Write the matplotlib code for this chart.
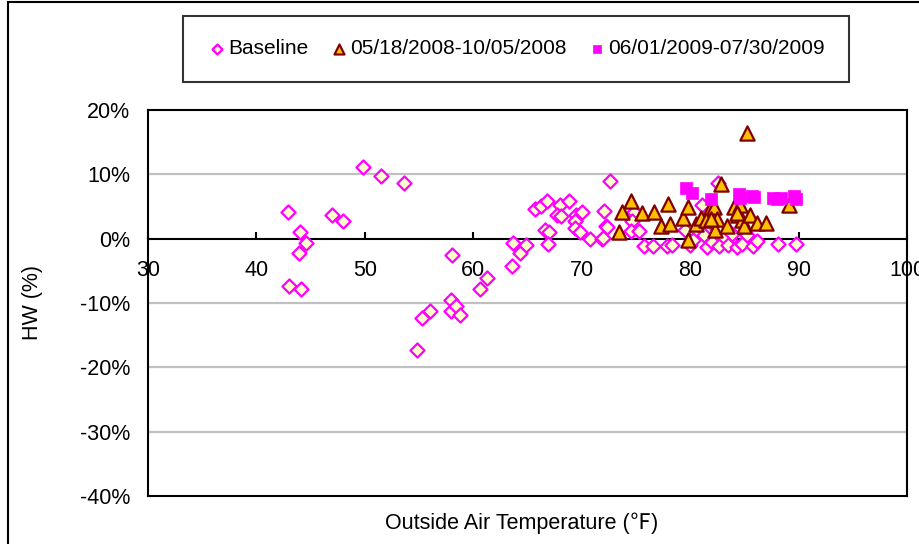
import matplotlib
matplotlib.use("Agg")
import matplotlib.pyplot as plt
from matplotlib.lines import Line2D
from matplotlib.patches import Rectangle

plt.rcParams['font.family'] = ['Liberation Sans', 'Noto Sans CJK SC', 'DejaVu Sans']

# Baseline period: outside air temperature (F) vs HW change (%)
base_t = [42.9, 43.0, 43.9, 44.0, 44.1, 44.6, 47.0, 48.0, 49.8, 51.5, 53.6,
          54.8, 55.3, 56.0, 58.0, 57.9, 57.9, 58.4, 58.8, 60.6, 61.3,
          63.6, 63.7, 64.3, 64.9, 65.7, 66.2, 66.8, 66.6, 67.0, 66.9,
          68.0, 68.8, 67.7, 68.1, 69.5, 70.0, 69.4, 69.4, 69.8, 70.8,
          71.9, 72.1, 72.2, 72.6, 72.3, 72.0, 74.8, 74.6, 74.5, 75.3,
          75.7, 76.6, 77.9, 78.3, 79.5, 80.0, 80.3, 81.1, 80.8, 81.3,
          81.6, 82.0, 82.5, 82.7, 83.1, 83.5, 83.9, 84.3, 84.8, 85.2,
          85.8, 86.2, 82.6, 88.1, 89.8]
base_hw = [4.2, -7.4, -2.2, 1.0, -7.8, -0.6, 3.7, 2.8, 11.1, 9.8, 8.6,
           -17.3, -12.3, -11.3, -2.5, -9.6, -11.3, -10.4, -11.9, -7.8, -6.1,
           -4.3, -0.7, -2.3, -1.0, 4.6, 5.1, 5.8, 1.3, 1.0, -0.8,
           5.3, 5.8, 3.7, 3.6, 3.7, 4.1, 2.7, 1.7, 1.1, 0.0,
           0.0, 4.3, 1.9, 8.9, 1.8, 0.1, 4.2, 2.8, 1.2, 1.2,
           -1.2, -1.2, -1.2, -1.0, 1.4, -1.0, -0.2, 5.3, 2.2, 0.5,
           -1.3, -0.5, 1.5, -1.2, 0.2, -1.0, 0.8, -1.3, -0.8, 0.6,
           -1.2, -0.3, 8.6, -0.9, -0.9]

# 05/18/2008-10/05/2008
p1_t = [74.5, 73.7, 73.4, 75.6, 76.7, 78.0, 77.3, 78.1, 79.3, 79.8, 79.8,
        80.5, 81.0, 81.5, 81.9, 82.2, 82.5, 82.3, 82.8, 83.4, 84.0, 84.6,
        84.4, 84.8, 85.0, 85.5, 86.2, 87.0, 89.1, 85.2, 84.3, 81.9]
p1_hw = [5.9, 4.1, 1.0, 4.0, 4.1, 5.4, 2.0, 2.3, 3.2, 5.0, -0.2,
         2.3, 3.2, 2.9, 5.0, 4.9, 3.1, 1.4, 8.5, 2.0, 5.0, 5.3,
         3.7, 2.9, 1.9, 3.7, 2.4, 2.4, 5.3, 16.5, 4.0, 3.0]

# 06/01/2009-07/30/2009
p2_t = [79.6, 80.2, 81.9, 84.5, 84.6, 85.7, 85.9, 87.6, 88.0, 88.4, 89.6, 89.8]
p2_hw = [7.8, 7.1, 6.2, 6.9, 6.3, 6.7, 6.4, 6.3, 6.2, 6.3, 6.7, 6.1]

x_ticks = [30, 40, 50, 60, 70, 80, 90, 100]
y_ticks = [-40, -30, -20, -10, 0, 10, 20]

FS = 15.5

fig = plt.figure(figsize=(9.2, 5.44), dpi=100)
fig.patches.append(Rectangle((8 / 920, -0.1), 1.2, 1.1 - 2 / 544,
                             transform=fig.transFigure, fill=False,
                             edgecolor='black', linewidth=1.5, zorder=0))
ax = fig.add_axes([148 / 920, 48 / 544, 759 / 920, 386 / 544])

ax.set_xlim(30, 100)
ax.set_ylim(-40, 20)
for v in [-30, -20, -10, 10]:
    ax.axhline(v, color='#c0c0c0', linewidth=1.6, zorder=1)

ax.scatter(base_t, base_hw, marker='D', s=52, facecolor='#ffffcc',
           edgecolor='#ff00ff', linewidth=1.6, zorder=3, label='Baseline')
ax.scatter(p1_t, p1_hw, marker='^', s=105, facecolor='#ffc000',
           edgecolor='#800000', linewidth=1.6, zorder=4,
           label='05/18/2008-10/05/2008')
ax.scatter(p2_t, p2_hw, marker='s', s=72, facecolor='#ff00ff',
           edgecolor='#ff00ff', linewidth=0.5, zorder=5,
           label='06/01/2009-07/30/2009')

# x axis crosses at 0; plot frame drawn separately
ax.spines['bottom'].set_position(('data', 0))
ax.spines['bottom'].set_linewidth(1.5)
ax.spines['bottom'].set_zorder(2)
for s in ['top', 'left', 'right']:
    ax.spines[s].set_linewidth(1.5)
ax.add_line(Line2D([0, 1], [0, 0], transform=ax.transAxes, color='black',
                   linewidth=1.5, clip_on=False))

ax.set_xticks(x_ticks)
ax.set_xticklabels([str(t) for t in x_ticks])
ax.set_yticks(y_ticks)
ax.set_yticklabels([f"{t}%" for t in y_ticks])
ax.tick_params(axis='x', direction='in', length=5, width=1.5, pad=15,
               labelsize=FS)
ax.tick_params(axis='y', length=0, pad=13, labelsize=FS)

ax.set_ylabel('HW (%)', fontsize=FS, labelpad=26)
fig.text(522 / 920, 1 - 523 / 544, 'Outside Air Temperature (℉)',
         ha='center', va='center', fontsize=FS)

leg = fig.legend(loc='center', bbox_to_anchor=(516 / 920, 1 - 49 / 544),
                 ncol=3, frameon=True, fancybox=False, fontsize=15,
                 markerscale=0.7, handletextpad=0.1, columnspacing=1.0,
                 borderpad=1.15, handlelength=0.9, borderaxespad=0)
leg.get_frame().set_edgecolor('black')
leg.get_frame().set_linewidth(1.5)

fig.savefig('out.png', dpi=100)
